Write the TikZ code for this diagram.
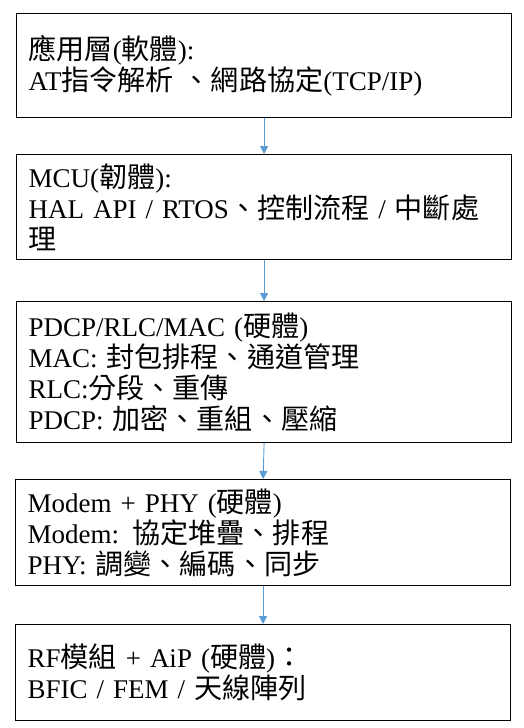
\documentclass[tikz,border=0pt]{standalone}
\usepackage{fontspec}
\setmainfont{Liberation Serif}
\newfontfamily\cjk{Noto Sans CJK TC}[Scale=1.04]
\newcommand{\zh}[1]{{\cjk #1}}
\usetikzlibrary{arrows.meta}
\definecolor{flowblue}{RGB}{91,155,213}

\begin{document}
\begin{tikzpicture}[x=1pt, y=-1pt,
    layerbox/.style={draw, line width=1.2pt, anchor=north west, align=left,
        text width=471pt, inner xsep=12pt, inner ysep=0pt,
        font=\fontsize{27}{31}\selectfont},
    flow/.style={flowblue, line width=0.9pt, -{Triangle[length=8pt,width=8pt]}}]

    % Page frame (keeps the margins)
    \useasboundingbox (0,0) rectangle (524,728);

    % Layer boxes, top to bottom
    \node[layerbox, minimum height=104pt] (app) at (16,13)
        {\zh{應用層}(\zh{軟體}):\\AT\zh{指令解析} \zh{、網路協定}(TCP/IP)};
    \node[layerbox, minimum height=105pt] (mcu) at (16,154)
        {MCU(\zh{韌體}):\\HAL API / RTOS\zh{、控制流程} / \zh{中斷處}\\\zh{理}};
    \node[layerbox, minimum height=141pt] (l2) at (16,301)
        {PDCP/RLC/MAC (\zh{硬體})\\MAC: \zh{封包排程、通道管理}\\RLC:\zh{分段、重傳}\\PDCP: \zh{加密、重組、壓縮}};
    \node[layerbox, minimum height=106pt] (phy) at (15,479)
        {Modem + PHY (\zh{硬體})\\Modem: \zh{協定堆疊、排程}\\PHY: \zh{調變、編碼、同步}};
    \node[layerbox, minimum height=96pt] (rf) at (15,624)
        {RF\zh{模組} + AiP (\zh{硬體})\zh{：}\\BFIC / FEM / \zh{天線陣列}};

    % Connectors between the layers
    \draw[flow] (app.south) -- (mcu.north);
    \draw[flow] (mcu.south) -- (l2.north);
    \draw[flow] (l2.south) -- (phy.north);
    \draw[flow] (phy.south) -- (rf.north);

\end{tikzpicture}
\end{document}
